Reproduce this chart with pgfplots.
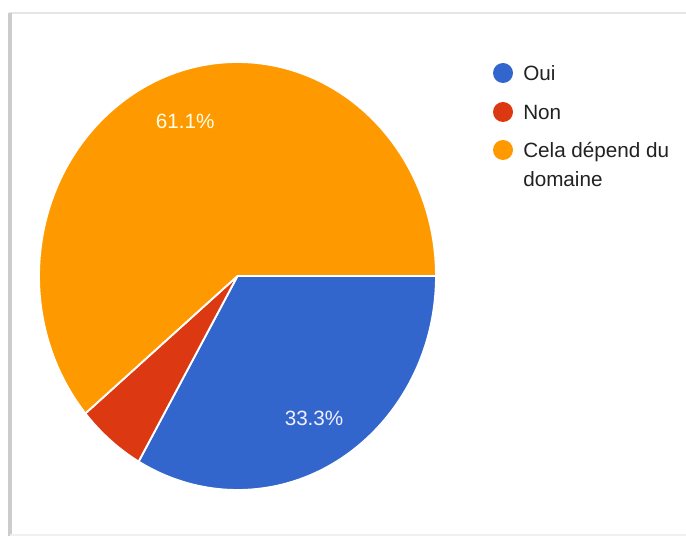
\documentclass[border=0pt]{standalone}
\usepackage{pgfplots}
\usepackage{pgfplotstable}
\pgfplotsset{compat=1.18}
\usepackage{fontspec}
\setmainfont{Liberation Sans}

\definecolor{gblue}{HTML}{3366CC}
\definecolor{gred}{HTML}{DC3912}
\definecolor{gorange}{HTML}{FF9900}
\definecolor{legtext}{HTML}{222222}

% slices, clockwise from 3 o'clock
\pgfplotstableread{
label value
Oui 33.3
Non 5.6
Cela 61.1
}\piedata

\pgfplotstablegetelem{0}{value}\of\piedata \let\vA\pgfplotsretval
\pgfplotstablegetelem{1}{value}\of\piedata \let\vB\pgfplotsretval
\pgfplotstablegetelem{2}{value}\of\piedata \let\vC\pgfplotsretval
\pgfmathsetmacro\aA{-3.6*\vA}
\pgfmathsetmacro\aB{\aA-3.6*\vB}
\pgfmathsetmacro\aC{\aB-3.6*\vC}
\pgfmathsetmacro\mA{\aA/2}
\pgfmathsetmacro\mC{(\aB+\aC)/2}

\newcommand{\lblfont}{\fontsize{15.5}{18}\selectfont}
\newcommand{\pct}[1]{\pgfmathprintnumber[fixed, precision=1, fixed zerofill, assume math mode=true]{#1}\%}

\begin{document}
\begin{tikzpicture}
% page 686 x 536 px, 1px = 0.75pt
\fill[white] (0,0) rectangle (514.5pt,402pt);
\useasboundingbox (0,0) rectangle (514.5pt,402pt);

\begin{scope}[x=0.75pt, y=-0.75pt, yshift=402pt]
  % card frame
  \draw[black!10, line width=1.5pt] (9,13) -- (686,13);
  \draw[black!20, line width=3pt] (10,13) -- (10,536);
  \draw[black!6, line width=1pt] (10,535) -- (686,535);
\end{scope}

\begin{axis}[
  at={(29.25pt,34.5pt)}, anchor=south west,
  scale only axis,
  width=297.75pt, height=321pt,
  xmin=-1, xmax=1, ymin=-1, ymax=1,
  hide axis, clip=false,
]
  \fill[gblue, draw=white, line width=1.4pt]
    (axis cs:0,0) -- (axis cs:1,0)
    arc[start angle=0, end angle=\aA, x radius=148.875pt, y radius=160.5pt] -- cycle;
  \fill[gred, draw=white, line width=1.4pt]
    (axis cs:0,0) -- (axis cs:{cos(\aA)},{sin(\aA)})
    arc[start angle=\aA, end angle=\aB, x radius=148.875pt, y radius=160.5pt] -- cycle;
  \fill[gorange, draw=white, line width=1.4pt]
    (axis cs:0,0) -- (axis cs:{cos(\aB)},{sin(\aB)})
    arc[start angle=\aB, end angle=\aC, x radius=148.875pt, y radius=160.5pt] -- cycle;

  \node[text=white!94!blue, font=\lblfont] at (axis cs:{0.77*cos(\mA)},{0.77*sin(\mA)}) {\pct{\vA}};
  \node[text=white!90!yellow, font=\lblfont] at (axis cs:{0.77*cos(\mC)},{0.77*sin(\mC)}) {\pct{\vC}};
\end{axis}

\begin{scope}[x=0.75pt, y=-0.75pt, yshift=402pt]
  % legend
  \fill[gblue] (503,73) circle (7.5pt);
  \fill[gred] (503,112) circle (7.5pt);
  \fill[gorange] (503,150) circle (7.5pt);
  \node[anchor=base west, inner sep=0pt, text=legtext, font=\lblfont] at (523,81) {Oui};
  \node[anchor=base west, inner sep=0pt, text=legtext, font=\lblfont] at (523,120) {Non};
  \node[anchor=base west, inner sep=0pt, text=legtext, font=\lblfont] at (523,158) {Cela dépend du};
  \node[anchor=base west, inner sep=0pt, text=legtext, font=\lblfont] at (523,187) {domaine};
\end{scope}
\end{tikzpicture}
\end{document}
